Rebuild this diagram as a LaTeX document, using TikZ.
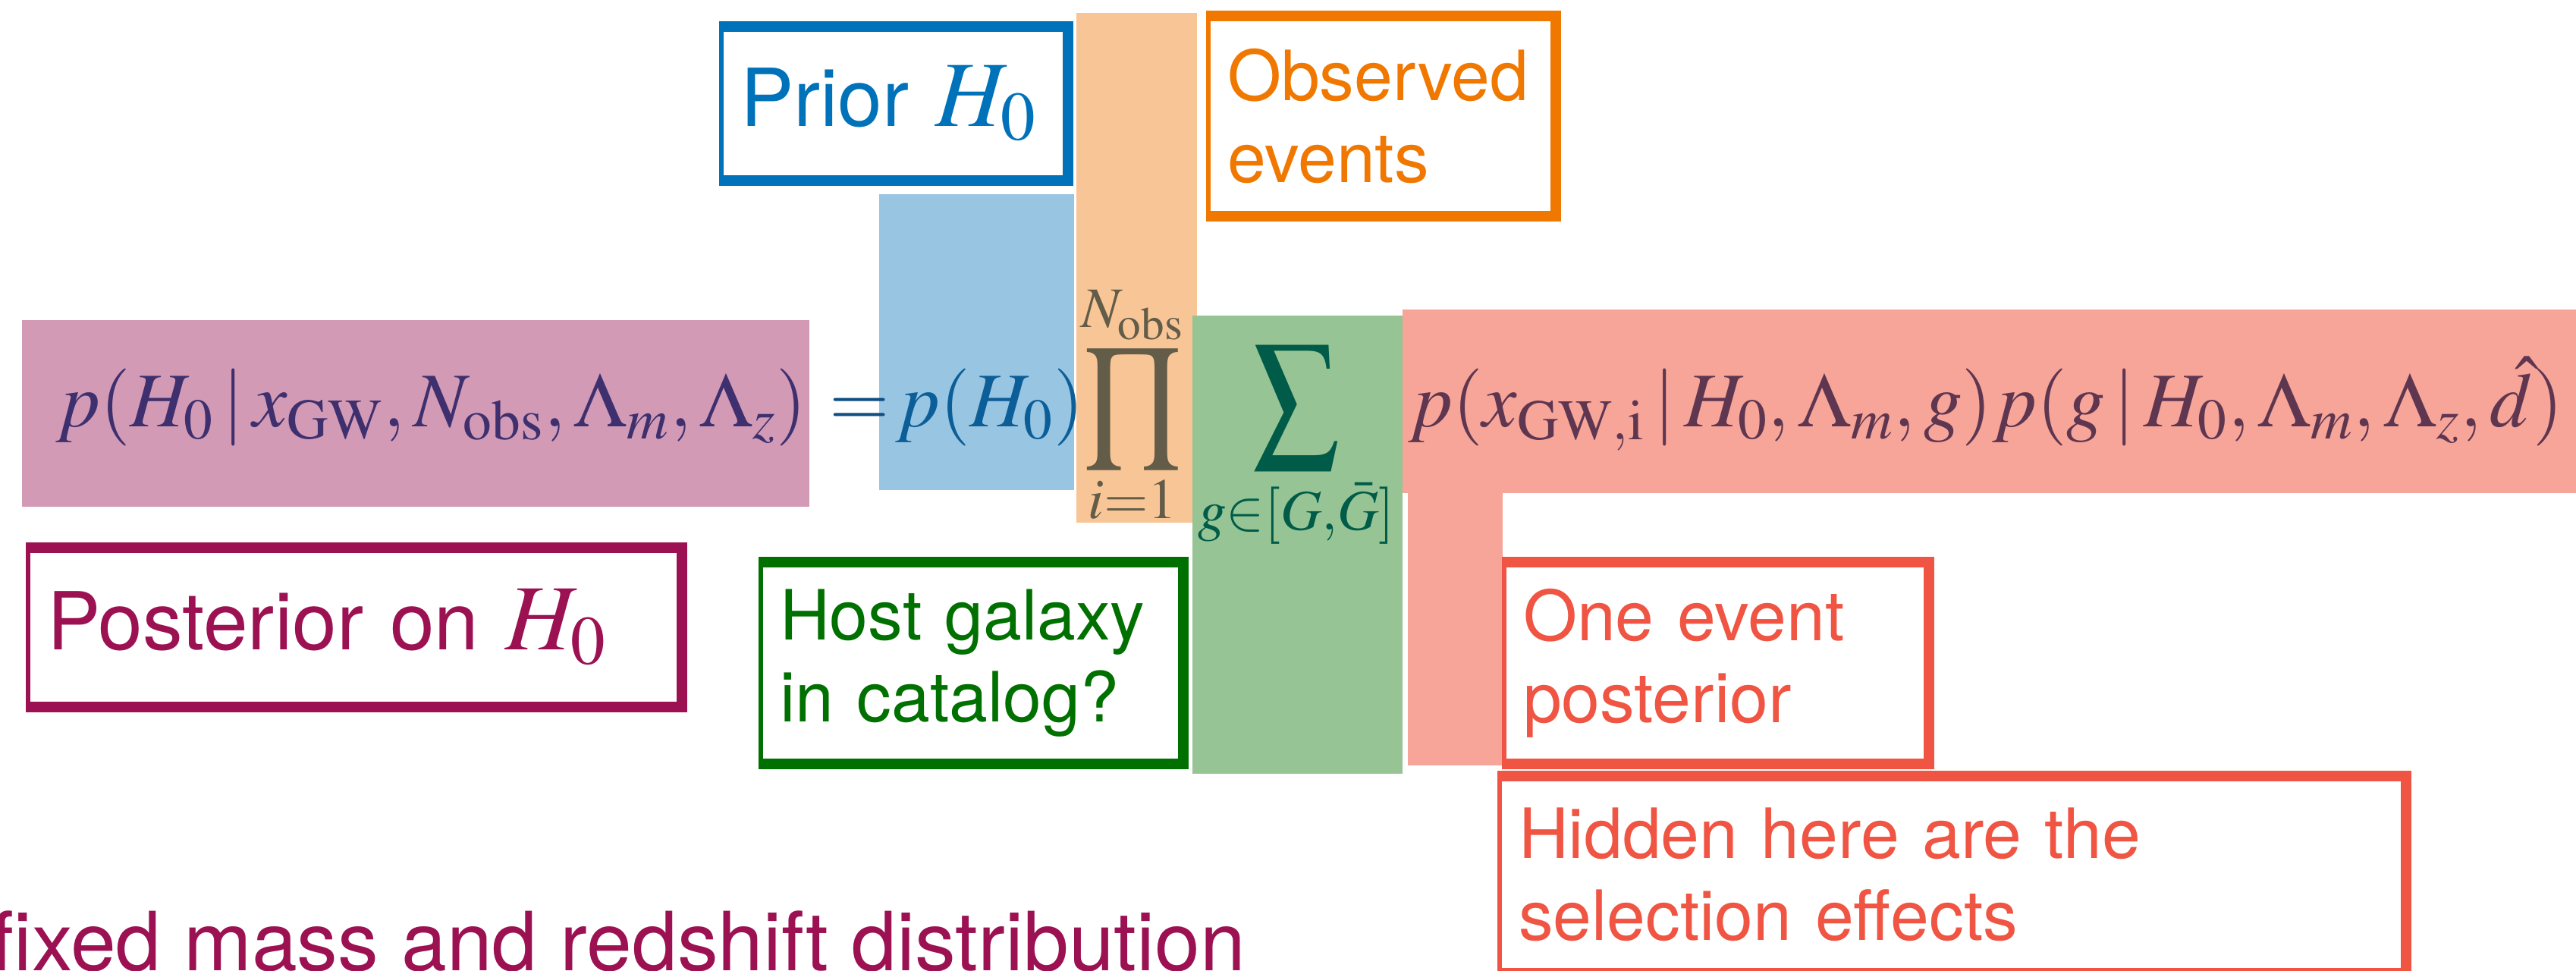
\documentclass[tikz,border=0pt]{standalone}
\usepackage{mathptmx}
\usepackage[no-math]{fontspec}
\newfontfamily\helv{TeX Gyre Heros}
\usetikzlibrary{positioning}

% patches behind the equation
\definecolor{pinkfill}{RGB}{211,154,182}
\definecolor{bluefill}{RGB}{152,197,226}
\definecolor{orangefill}{RGB}{248,197,151}
\definecolor{greenfill}{RGB}{151,196,149}
\definecolor{redfill}{RGB}{247,164,153}
% text on the patches
\definecolor{pinktext}{RGB}{62,48,110}
\definecolor{eqblue}{RGB}{14,78,128}
\definecolor{bluetext}{RGB}{12,94,152}
\definecolor{prodtext}{RGB}{99,92,72}
\definecolor{sumtext}{RGB}{0,92,72}
\definecolor{redtext}{RGB}{94,54,80}
% label boxes
\definecolor{priorblue}{RGB}{0,114,185}
\definecolor{obsorange}{RGB}{240,120,0}
\definecolor{hostgreen}{RGB}{0,112,0}
\definecolor{eventred}{RGB}{240,84,66}
\definecolor{postcrimson}{RGB}{155,17,82}

\tikzset{
  formula/.style={inner sep=0pt, anchor=base west, font=\fontsize{29}{34}\selectfont},
  labelbox/.style={draw, line width=1.6pt, inner xsep=0.25cm, inner ysep=0pt, align=left,
    font=\helv\fontsize{26}{30.8}\selectfont},
  biglabel/.style={labelbox, font=\helv\fontsize{30}{34}\selectfont},
}
\newcommand{\bigH}{{\fontsize{35}{35}\selectfont$H_0$}}
% taller big operators, centred on the math axis
\newcommand{\bigop}[3]{\mathop{\vcenter{\hbox{\scalebox{#1}[#2]{$\displaystyle#3$}}}}\limits}

\begin{document}
\begin{tikzpicture}
  \clip (0,0) rectangle (33.96,12.80);
  % coloured patches
  \fill[orangefill] (14.19,5.91) rectangle (15.78,12.63);
  \fill[bluefill] (11.59,6.34) rectangle (14.16,10.24);
  \fill[pinkfill] (0.29,6.12) rectangle (10.67,8.58);
  \fill[greenfill] (15.72,2.60) rectangle (18.49,8.64);
  \fill[redfill] (18.56,2.71) rectangle (19.81,6.40);
  \fill[redfill] (18.49,6.30) rectangle (34.50,8.72);

  % the equation, piece by piece
  \node[formula, text=pinktext] (lhs) at (0.73,7.17) {$p(H_0\,|\,x_{\mathrm{GW}}, N_{\mathrm{obs}}, \Lambda_m, \Lambda_z)$};
  \node[formula, text=eqblue] (eq) at (10.93,7.17) {$=$};
  \node[formula, text=bluetext] (pH) at (11.80,7.17) {$p(H_0)$};
  \node[formula, anchor=base, text=prodtext] (prod) at (14.93,7.17) {$\displaystyle\bigop{1.05}{1.25}{\prod}_{i=1}^{N_{\mathrm{obs}}}$};
  \node[formula, anchor=base, text=sumtext] (sum) at (17.09,7.17) {$\displaystyle\bigop{1.1}{1.3}{\sum}_{g\in[G,\bar{G}]}$};
  \node[formula, text=redtext] (like) at (18.56,7.17) {$p(x_{\mathrm{GW,i}}\,|\,H_0, \Lambda_m, g)p(g\,|\,H_0, \Lambda_m, \Lambda_z, \hat{d})$};

  % labels
  \node[biglabel, color=priorblue, text width=4.04cm, minimum height=1.97cm] (priorlbl) at (11.78,11.435) {Prior \bigH};
  \node[labelbox, color=obsorange, text width=4.05cm, minimum height=2.58cm] (obslbl) at (18.205,11.27) {Observed\\events};
  \node[biglabel, color=postcrimson, text width=8.09cm, minimum height=2.04cm] (postlbl) at (4.665,4.53) {Posterior on \bigH};
  \node[labelbox, color=hostgreen, text width=5.04cm, minimum height=2.60cm] (hostlbl) at (12.80,4.06) {Host galaxy\\in catalog?};
  \node[labelbox, color=eventred, text width=5.07cm, minimum height=2.60cm] (onelbl) at (22.615,4.06) {One event\\posterior};
  \node[labelbox, color=eventred, text width=11.42cm, minimum height=2.55cm] (hidlbl) at (25.73,1.27) {Hidden here are the\\selection effects};

  % heavier brush strokes on top, right and bottom
  \draw[priorblue, line width=4pt] (priorlbl.north west) -- (priorlbl.north east) -- (priorlbl.south east) -- (priorlbl.south west);
  \draw[obsorange, line width=4pt] (obslbl.north west) -- (obslbl.north east) -- (obslbl.south east) -- (obslbl.south west);
  \draw[postcrimson, line width=4pt] (postlbl.north west) -- (postlbl.north east) -- (postlbl.south east) -- (postlbl.south west);
  \draw[hostgreen, line width=4pt] (hostlbl.north west) -- (hostlbl.north east) -- (hostlbl.south east) -- (hostlbl.south west);
  \draw[eventred, line width=4pt] (onelbl.north west) -- (onelbl.north east) -- (onelbl.south east) -- (onelbl.south west);
  \draw[eventred, line width=4pt] (hidlbl.north west) -- (hidlbl.north east) -- (hidlbl.south east) -- (hidlbl.south west);

  \node[anchor=base west, inner sep=0pt, text=postcrimson, font=\helv\fontsize{30.6}{34}\selectfont] (note) at (-0.12,0) {fixed mass and redshift distribution};
\end{tikzpicture}
\end{document}
